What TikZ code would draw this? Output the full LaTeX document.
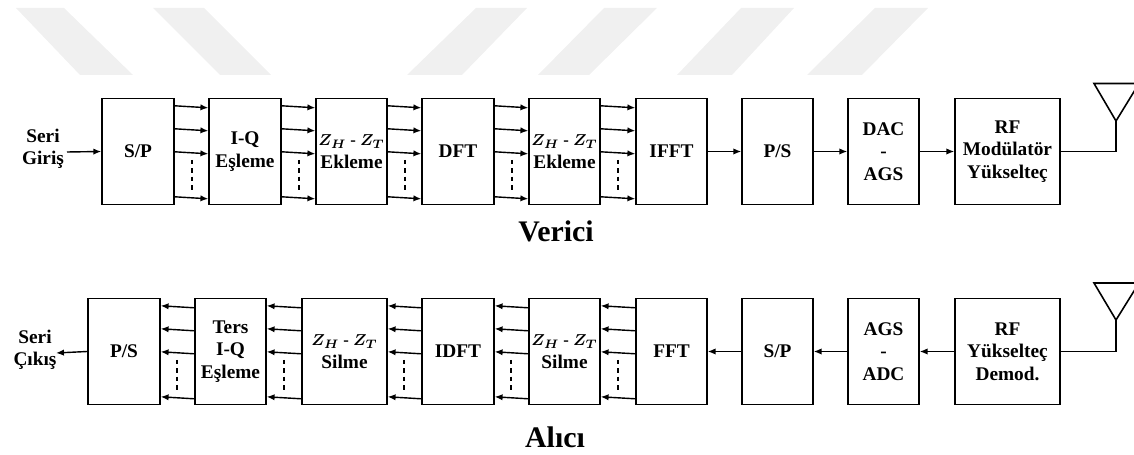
\documentclass[tikz,border=0pt]{standalone}
\usepackage{fontspec}
\setmainfont{Liberation Serif}
\usepackage{tikz}
\usetikzlibrary{arrows.meta}
\newcommand{\zhzt}{{\fontsize{9.5}{12.8}\selectfont\boldmath$Z_H$ - $Z_T$}}
\tikzset{
    blok/.style={draw, line width=0.8pt, minimum height=2.12cm, inner sep=0pt, align=center, font=\bfseries\fontsize{11}{12.8}\selectfont},
    etiket/.style={inner sep=0pt, align=center, font=\bfseries\fontsize{11}{12.4}\selectfont},
    baslik/.style={inner sep=0pt, font=\bfseries\fontsize{17}{20}\selectfont},
    ok/.style={line width=0.8pt, -{Latex[length=4.5pt,width=3.6pt]}},
    hat/.style={line width=0.9pt},
    nokta/.style={line width=0.8pt, dash pattern=on 2.6pt off 2.2pt},
    filigran/.style={fill=black!6, draw=none}
}
\begin{document}
\begin{tikzpicture}[x=0.02cm,y=-0.02cm]
    \clip (0,0) rectangle (1134,455);
    % arka plan
    \fill[filigran] (16,8) -- (64,8) -- (133,75) -- (80,75) -- cycle;
    \fill[filigran] (153,8) -- (204,8) -- (271,75) -- (220,75) -- cycle;
    \fill[filigran] (476,8) -- (527,8) -- (462,75) -- (407,75) -- cycle;
    \fill[filigran] (604,8) -- (657,8) -- (589,75) -- (538,75) -- cycle;
    \fill[filigran] (741,8) -- (794,8) -- (732,75) -- (677,75) -- cycle;
    \fill[filigran] (875,8) -- (928,8) -- (862,75) -- (807,75) -- cycle;

    % verici
    \node[blok, minimum width=1.44cm] (SP1) at (138,151.5) {S/P};
    \node[blok, minimum width=1.44cm] (IQ1) at (245,151.5) {I-Q\\Eşleme};
    \node[blok, minimum width=1.42cm] (ZT1) at (351.5,151.5) {\zhzt\\Ekleme};
    \node[blok, minimum width=1.44cm] (DFT) at (458,151.5) {DFT};
    \node[blok, minimum width=1.42cm] (ZT2) at (564.5,151.5) {\zhzt\\Ekleme};
    \node[blok, minimum width=1.42cm] (IFFT) at (671.5,151.5) {IFFT};
    \node[blok, minimum width=1.42cm] (PS1) at (777.5,151.5) {P/S};
    \node[blok, minimum width=1.42cm] (DAC) at (883.5,151.5) {DAC\\-\\AGS};
    \node[blok, minimum width=2.1cm] (RF1) at (1007.5,151.5) {RF\\Modülatör\\Yükselteç};
    \node[etiket] (GIR) at (43,149) {Seri\\Giriş};
    \node[baslik] (VER) at (556,231) {Verici};
    \coordinate (G1) at (67,152);
    \coordinate (A1) at (1116,121);

    \foreach \a/\b in {SP1/IQ1,IQ1/ZT1,ZT1/DFT,DFT/ZT2,ZT2/IFFT}{
        \foreach \y in {9,32,55,100}
            \draw[ok] ([shift={(0,\y-1)}]\a.north east) -- ([shift={(0,\y+1)}]\b.north west);
        \draw[nokta] ([shift={(17.5,62)}]\a.north east) -- ([shift={(17.5,94)}]\a.north east);
    }
    \draw[ok] (G1) -- (SP1.west);
    \draw[ok] (IFFT.east) -- (PS1.west);
    \draw[ok] (PS1.east) -- (DAC.west);
    \draw[ok] (DAC.east) -- (RF1.west);
    \draw[hat] (RF1.east) -| (A1);
    \draw[hat] (1094,83.5) -- (1139,83.5) -- (A1) -- cycle;

    % alici
    \node[blok, minimum width=1.44cm] (PS2) at (124,351.5) {P/S};
    \node[blok, minimum width=1.42cm] (IQ2) at (230.5,351.5) {Ters\\I-Q\\Eşleme};
    \node[blok, minimum width=1.7cm] (ZT3) at (344.5,351.5) {\zhzt\\Silme};
    \node[blok, minimum width=1.44cm] (IDFT) at (458,351.5) {IDFT};
    \node[blok, minimum width=1.42cm] (ZT4) at (564.5,351.5) {\zhzt\\Silme};
    \node[blok, minimum width=1.42cm] (FFT) at (671.5,351.5) {FFT};
    \node[blok, minimum width=1.42cm] (SP2) at (777.5,351.5) {S/P};
    \node[blok, minimum width=1.42cm] (AGS) at (883.5,351.5) {AGS\\-\\ADC};
    \node[blok, minimum width=2.1cm] (RF2) at (1007.5,351.5) {RF\\Yükselteç\\Demod.};
    \node[etiket] (CIK) at (35,350) {Seri\\Çıkış};
    \node[baslik] (ALI) at (555,437) {Alıcı};
    \coordinate (C1) at (56,353);
    \coordinate (A2) at (1116,320);

    \foreach \a/\b in {IQ2/PS2,ZT3/IQ2,IDFT/ZT3,ZT4/IDFT,FFT/ZT4}{
        \foreach \y in {10,33,56,101}
            \draw[ok] ([shift={(0,\y)}]\a.north west) -- ([shift={(0,\y-2)}]\b.north east);
        \draw[nokta] ([shift={(-17.5,62)}]\a.north west) -- ([shift={(-17.5,94)}]\a.north west);
    }
    \draw[ok] (PS2.west) -- (C1);
    \draw[ok] (SP2.west) -- (FFT.east);
    \draw[ok] (AGS.west) -- (SP2.east);
    \draw[ok] (RF2.west) -- (AGS.east);
    \draw[hat] (RF2.east) -| (A2);
    \draw[hat] (1094,283) -- (1139,283) -- (A2) -- cycle;
\end{tikzpicture}
\end{document}
